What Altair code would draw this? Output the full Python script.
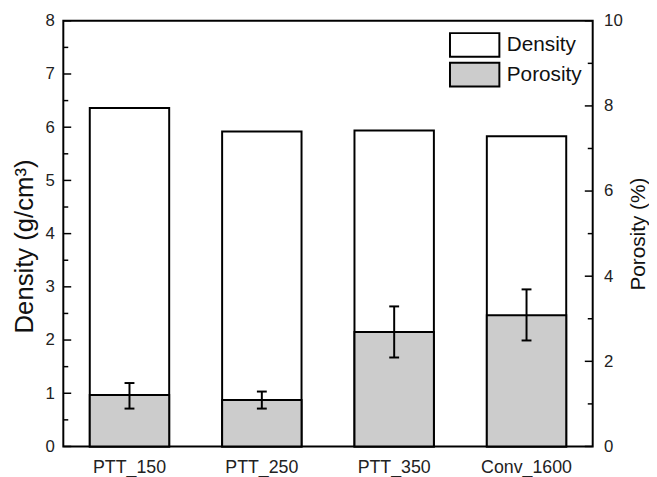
import altair as alt
import pandas as pd

samples = ["PTT_150", "PTT_250", "PTT_350", "Conv_1600"]
density = [6.36, 5.92, 5.94, 5.83]
porosity = [1.21, 1.09, 2.69, 3.08]
por_lo = [0.89, 0.89, 2.09, 2.49]
por_hi = [1.49, 1.29, 3.29, 3.69]

left_major = [0, 1, 2, 3, 4, 5, 6, 7, 8]
left_minor = [0.5, 1.5, 2.5, 3.5, 4.5, 5.5, 6.5, 7.5]
right_major = [0, 2, 4, 6, 8, 10]
right_minor = [1, 3, 5, 7, 9]

W, H = 536, 431
HATCH = "#cccccc"

df = pd.DataFrame({
    "sample": samples,
    "density": density,
    "porosity": porosity,
    "lo": por_lo,
    "hi": por_hi,
})
df_d = df.assign(series="Density")
df_p = df.assign(series="Porosity")

x_enc = alt.X(
    "sample:N", sort=samples,
    scale=alt.Scale(paddingInner=0.4, paddingOuter=0.2),
    axis=alt.Axis(title=None, labelAngle=0, ticks=False, domain=False, grid=False,
                  labelFontSize=18, labelPadding=12, labelColor="#222",
                  labelFont="Liberation Sans"),
)

color_enc = alt.Color(
    "series:N",
    scale=alt.Scale(domain=["Density", "Porosity"], range=["white", HATCH]),
    legend=alt.Legend(
        title=None, orient="none", legendX=403, legendY=11,
        symbolType="M-2,-0.96H2V0.96H-2Z", symbolSize=625,
        symbolStrokeColor="black", symbolStrokeWidth=2, symbolOpacity=1,
        labelFontSize=21, labelFont="Liberation Sans", labelColor="#111",
        labelOffset=19, rowPadding=-4,
    ),
)

left_axis = alt.Axis(
    title="Density (g/cm³)", values=left_major, format="d", orient="left",
    ticks=False, domain=False, grid=False,
    labelFontSize=17, labelPadding=9, labelColor="#222", labelFont="Liberation Sans",
    titleFontSize=26, titleFontWeight="normal", titleFont="Liberation Sans",
    titleColor="#111", titlePadding=8, titleY=228,
)
right_axis = alt.Axis(
    title="Porosity (%)", values=right_major, format="d", orient="right",
    ticks=False, domain=False, grid=False,
    labelFontSize=17, labelPadding=11, labelColor="#222", labelFont="Liberation Sans",
    titleFontSize=21, titleFontWeight="normal", titleFont="Liberation Sans",
    titleColor="#111", titlePadding=27, titleAngle=270,
)

yd_scale = alt.Scale(domain=[0, 8], nice=False)
yp_scale = alt.Scale(domain=[0, 10], nice=False)

dens_bars = alt.Chart(df_d).mark_bar(stroke="black", strokeWidth=2).encode(
    x=x_enc,
    y=alt.Y("density:Q", scale=yd_scale, axis=left_axis),
    color=color_enc,
)
lmaj = alt.Chart(pd.DataFrame({"density": left_major})).mark_rule(color="black", strokeWidth=1.5).encode(
    y=alt.Y("density:Q", scale=yd_scale, axis=left_axis),
    x=alt.value(0), x2=alt.value(8),
)
lmin = alt.Chart(pd.DataFrame({"density": left_minor})).mark_rule(color="black", strokeWidth=1.5).encode(
    y=alt.Y("density:Q", scale=yd_scale, axis=left_axis),
    x=alt.value(0), x2=alt.value(5),
)
group_d = alt.layer(dens_bars, lmaj, lmin)

por_bars = alt.Chart(df_p).mark_bar(stroke="black", strokeWidth=2).encode(
    x=x_enc,
    y=alt.Y("porosity:Q", scale=yp_scale, axis=right_axis),
    color=color_enc,
)
err = alt.Chart(df_p).mark_rule(color="black", strokeWidth=2).encode(
    x=x_enc,
    y=alt.Y("lo:Q", scale=yp_scale, axis=right_axis),
    y2="hi:Q",
)
cap_lo = alt.Chart(df_p).mark_tick(color="black", thickness=2, size=10, opacity=1).encode(
    x=x_enc,
    y=alt.Y("lo:Q", scale=yp_scale, axis=right_axis),
)
cap_hi = alt.Chart(df_p).mark_tick(color="black", thickness=2, size=10, opacity=1).encode(
    x=x_enc,
    y=alt.Y("hi:Q", scale=yp_scale, axis=right_axis),
)
rmaj = alt.Chart(pd.DataFrame({"porosity": right_major})).mark_rule(color="black", strokeWidth=1.5).encode(
    y=alt.Y("porosity:Q", scale=yp_scale, axis=right_axis),
    x=alt.value(W), x2=alt.value(W - 8),
)
rmin = alt.Chart(pd.DataFrame({"porosity": right_minor})).mark_rule(color="black", strokeWidth=1.5).encode(
    y=alt.Y("porosity:Q", scale=yp_scale, axis=right_axis),
    x=alt.value(W), x2=alt.value(W - 5),
)
group_p = alt.layer(por_bars, err, cap_lo, cap_hi, rmaj, rmin)

chart = alt.layer(group_d, group_p).resolve_scale(y="independent").properties(
    width=W, height=H,
    padding={"left": 56, "top": 10, "right": 57, "bottom": 30},
    autosize=alt.AutoSizeParams(type="none"),
    background="white",
).configure_view(stroke="black", strokeWidth=2)

chart.save("out.html", embed_options={"renderer": "svg", "actions": False})
